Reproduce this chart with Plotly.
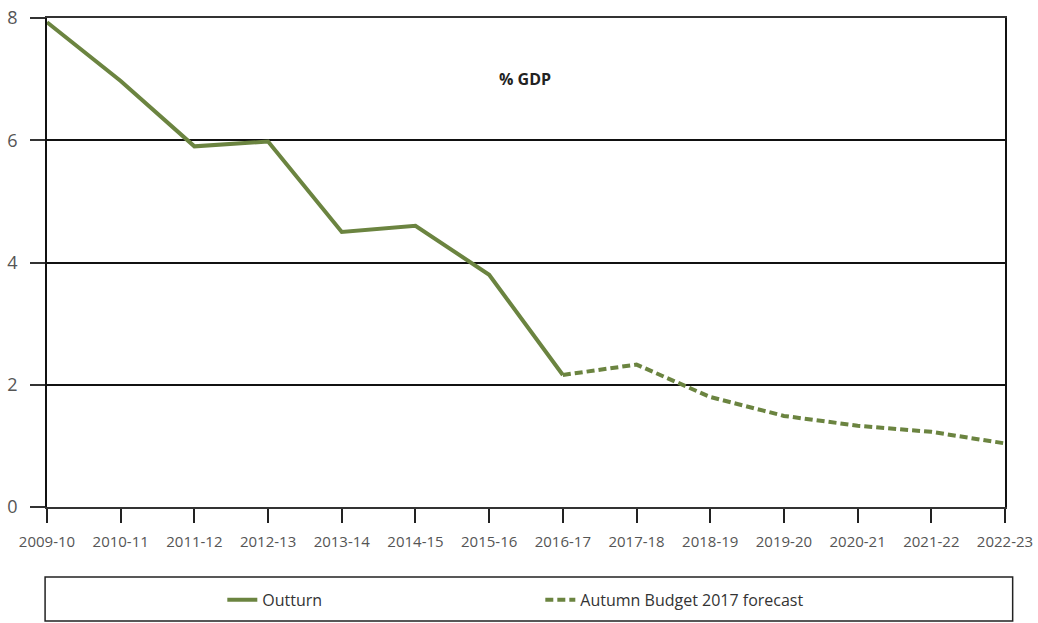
import plotly.graph_objects as go

categories = ["2009-10", "2010-11", "2011-12", "2012-13", "2013-14", "2014-15", "2015-16",
              "2016-17", "2017-18", "2018-19", "2019-20", "2020-21", "2021-22", "2022-23"]
outturn = [7.93, 6.97, 5.9, 5.98, 4.5, 4.6, 3.8, 2.16]
forecast = [2.16, 2.33, 1.8, 1.49, 1.33, 1.23, 1.04]
outturn_cats = categories[:8]
forecast_cats = categories[7:]

green = "#6B8440"

fig = go.Figure()
fig.add_trace(go.Scatter(x=outturn_cats, y=outturn, mode="lines", name="Outturn",
                         line=dict(color=green, width=4)))
fig.add_trace(go.Scatter(x=forecast_cats, y=forecast, mode="lines", name="Autumn Budget 2017 forecast",
                         line=dict(color=green, width=4, dash="8px,4px")))

fig.add_annotation(text="<b>% GDP</b>", x=0.499, y=0.875, xref="paper", yref="paper",
                   xanchor="center", yanchor="middle",
                   showarrow=False, font=dict(size=16, color="#222", family="Open Sans"))

# legend box
fig.add_shape(type="rect", xref="paper", yref="paper", x0=-0.002, x1=1.008, y0=-0.233, y1=-0.143,
              line=dict(color="#222", width=1.5), fillcolor="rgba(0,0,0,0)")

fig.update_layout(
    width=1038, height=623,
    margin=dict(l=47, r=33, t=18, b=116, autoexpand=False),
    paper_bgcolor="white", plot_bgcolor="white",
    font=dict(family="Open Sans", color="#444"),
    showlegend=True,
    legend=dict(orientation="h", x=0.183, xanchor="left", xref="paper",
                y=0.037, yanchor="middle", yref="container",
                font=dict(size=16, color="#333", family="Open Sans"),
                entrywidth=273, entrywidthmode="pixels", bgcolor="rgba(0,0,0,0)"),
    xaxis=dict(type="category", range=[0, 13], showgrid=False, automargin=False,
               showline=True, linecolor="#333", linewidth=1.5, mirror=True,
               ticks="outside", ticklen=14, tickcolor="#222", tickwidth=1.5,
               ticklabelstandoff=6, ticklabeloverflow="allow",
               tickfont=dict(size=15, color="#555"),
               zeroline=False),
    yaxis=dict(range=[0, 8], tickvals=[0, 2, 4, 6, 8], showgrid=True, gridcolor="#111", gridwidth=1.5,
               automargin=False,
               showline=True, linecolor="#111", linewidth=1.5, mirror=True,
               ticks="outside", ticklen=15, tickcolor="#333", tickwidth=1.5,
               ticklabelstandoff=9, ticklabeloverflow="allow",
               tickfont=dict(size=18, color="#555"), zeroline=False),
)

# remove the default 8px page margin so the figure sits at the window's corner
fig.write_html("out.html", config={"displayModeBar": False},
               post_script="document.body.style.margin='0';document.body.style.overflow='hidden';")
